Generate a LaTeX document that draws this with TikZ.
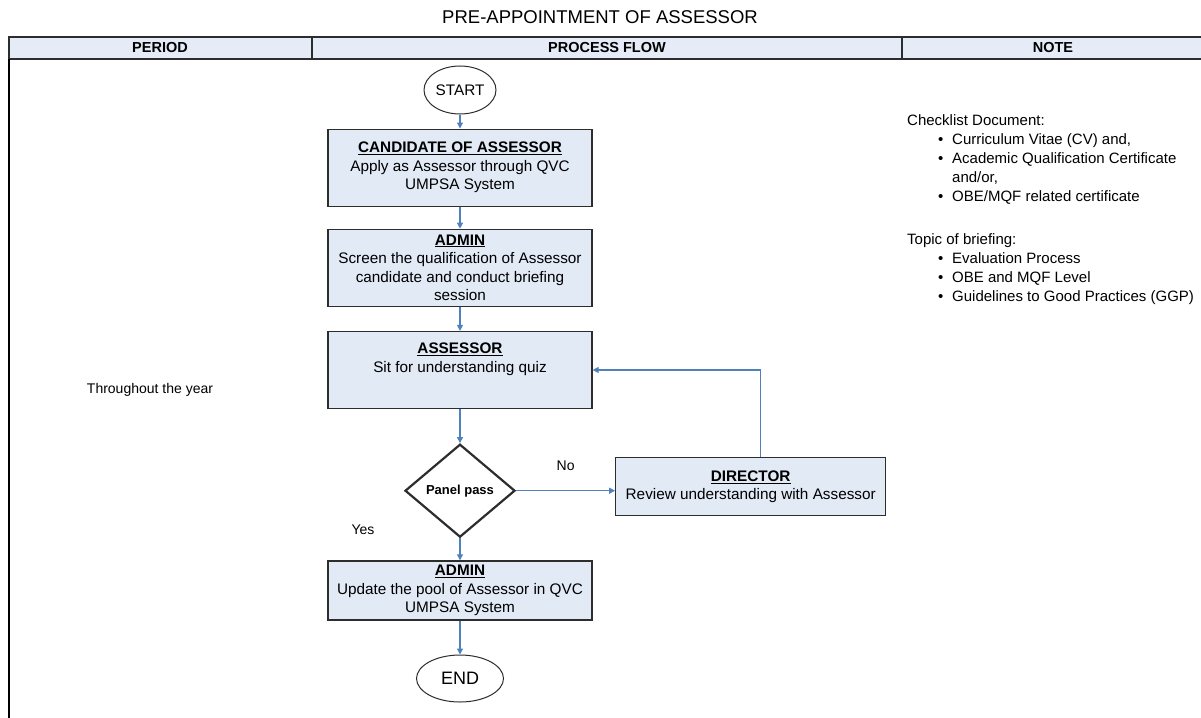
\documentclass[tikz,border=0pt]{standalone}
\usepackage{fontspec}
\setmainfont{Liberation Sans}
\usepackage{tikz}
\usetikzlibrary{arrows.meta,shapes,positioning}
\definecolor{boxblue}{RGB}{226,234,246}
\definecolor{headblue}{RGB}{229,235,247}
\definecolor{flowblue}{RGB}{79,129,189}
\definecolor{edgegray}{RGB}{45,45,45}
\newcommand{\rolename}[1]{\underline{\textbf{#1}}}
\newcommand{\notebullet}[1]{\hspace*{31pt}\makebox[14pt][l]{\textbullet}#1}
\newcommand{\notecont}[1]{\hspace*{45pt}#1}
\tikzset{
  procbox/.style={draw=edgegray,line width=1.2pt,fill=boxblue,align=center,
    inner sep=3pt,minimum width=264pt,font=\fontsize{15.3}{18.5}\selectfont},
  terminal/.style={ellipse,draw=edgegray,line width=1pt,fill=white,inner sep=0pt,
    font=\fontsize{15.3}{18}\selectfont},
  decision/.style={diamond,draw=edgegray,line width=2.2pt,fill=white,inner sep=0pt,
    minimum width=110pt,minimum height=93pt,font=\fontsize{13}{15}\selectfont\bfseries},
  flowarrow/.style={draw=flowblue,line width=1.2pt,-{Triangle[length=6pt,width=6pt]}},
  plainlbl/.style={inner sep=0pt,font=\fontsize{14}{17}\selectfont},
  notetext/.style={inner sep=0pt,align=left,anchor=north west,font=\fontsize{15}{19}\selectfont},
  headlbl/.style={inner sep=0pt,font=\fontsize{14.5}{17}\selectfont\bfseries}
}
\begin{document}
\begin{tikzpicture}[x=1pt,y=-1pt]
\useasboundingbox (0,0) rectangle (1201,717);
\node[inner sep=0pt,font=\fontsize{18.5}{22}\selectfont] (title) at (600,17) {PRE-APPOINTMENT OF ASSESSOR};
\draw[draw=edgegray,line width=1.5pt,fill=headblue] (9,37) rectangle (1203,59);
\draw[draw=edgegray,line width=1.2pt] (312,37) -- (312,59) (902,37) -- (902,59);
\draw[draw=black,line width=1.5pt] (9,59) -- (9,718);
\node[headlbl] (hperiod) at (160,48) {PERIOD};
\node[headlbl] (hflow) at (607,48) {PROCESS FLOW};
\node[headlbl] (hnote) at (1053,48) {NOTE};

\node[plainlbl] (period) at (150,390) {Throughout the year};

\node[terminal,minimum width=72pt,minimum height=48pt] (start) at (460,90) {START};
\node[procbox,minimum height=77pt,below=14pt of start] (cand)
  {\rolename{CANDIDATE OF ASSESSOR}\\Apply as Assessor through QVC\\UMPSA System};
\node[procbox,minimum height=77pt,below=22pt of cand] (screen)
  {\rolename{ADMIN}\\Screen the qualification of Assessor\\candidate and conduct briefing\\session};
\node[procbox,minimum height=77pt,below=24pt of screen] (quiz)
  {\rolename{ASSESSOR}\\Sit for understanding quiz\\[6pt]};
\node[decision,below=34pt of quiz] (pass) {Panel pass};
\node[procbox,minimum width=270pt,minimum height=58pt,right=99pt of pass,yshift=4pt] (review)
  {\rolename{DIRECTOR}\\Review understanding with Assessor};
\node[procbox,minimum height=59pt,below=22pt of pass] (update)
  {\rolename{ADMIN}\\Update the pool of Assessor in QVC\\UMPSA System};
\node[terminal,minimum width=87pt,minimum height=47pt,font=\fontsize{18}{21}\selectfont,below=34pt of update] (finish) {END};

\draw[flowarrow] (start) -- (cand);
\draw[flowarrow] (cand) -- (screen);
\draw[flowarrow] (screen) -- (quiz);
\draw[flowarrow] (quiz) -- (pass);
\draw[flowarrow] (pass.east) -- node[plainlbl,above=19pt] (nolbl) {No} (pass.east -| review.west);
\draw[flowarrow] ([xshift=10pt]review.north) |- (quiz.east);
\draw[flowarrow] (pass) -- (update);
\draw[flowarrow] (update) -- (finish);
\node[plainlbl] (yeslbl) at (363,530) {Yes};

\node[notetext] (checklist) at (907,114) {Checklist Document:\\
  \notebullet{Curriculum Vitae (CV) and,}\\
  \notebullet{Academic Qualification Certificate}\\
  \notecont{and/or,}\\
  \notebullet{OBE/MQF related certificate}};
\node[notetext] (briefing) at (907,233) {Topic of briefing:\\
  \notebullet{Evaluation Process}\\
  \notebullet{OBE and MQF Level}\\
  \notebullet{Guidelines to Good Practices (GGP)}};
\end{tikzpicture}
\end{document}
